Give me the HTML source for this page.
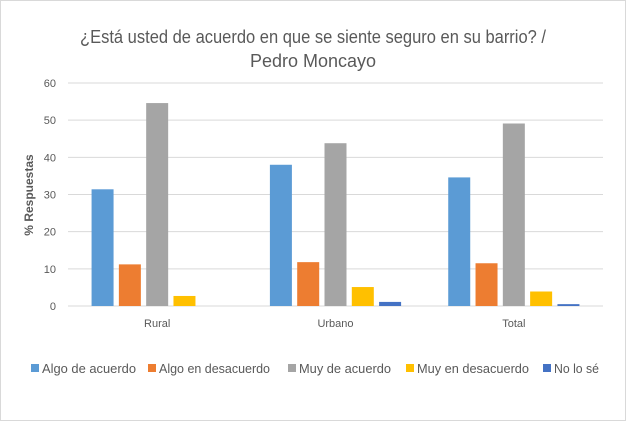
<!DOCTYPE html>
<html><head><meta charset="utf-8"><style>
body{margin:0;background:#fff;}
#c{position:relative;width:626px;height:421px;background:#fff;font-family:"Liberation Sans",sans-serif;}
#frame{position:absolute;left:0;top:0;width:624px;height:419px;border:1px solid #d9d9d9;}
</style></head><body>
<div id="c">
<div id="frame"></div>
<svg id="s" width="626" height="421" style="position:absolute;left:0;top:0">
<text x="313" y="43" text-anchor="middle" font-size="18" fill="#595959" textLength="466" lengthAdjust="spacingAndGlyphs">¿Está usted de acuerdo en que se siente seguro en su barrio? /</text>
<text x="313" y="67" text-anchor="middle" font-size="18" fill="#595959">Pedro Moncayo</text>
<text transform="translate(33,195) rotate(-90)" text-anchor="middle" font-size="12" font-weight="bold" fill="#595959">% Respuestas</text>
<g id="grid"></g><g id="bars"></g><g id="xl"></g><g id="leg"></g>
</svg>
</div>
<script>
const categories=["Rural","Urbano","Total"];
const seriesNames=["Algo de acuerdo","Algo en desacuerdo","Muy de acuerdo","Muy en desacuerdo","No lo sé"];
const colors=["#5b9bd5","#ed7d31","#a5a5a5","#ffc000","#4472c4"];
const algoAcuerdo=[31.4,38.0,34.6];
const algoDesacuerdo=[11.2,11.8,11.5];
const muyAcuerdo=[54.6,43.8,49.1];
const muyDesacuerdo=[2.7,5.1,3.9];
const noLoSe=[0,1.1,0.5];
const yTicks=[0,10,20,30,40,50,60];
const series=[algoAcuerdo,algoDesacuerdo,muyAcuerdo,muyDesacuerdo,noLoSe];
const NS="http://www.w3.org/2000/svg";
const x0=68,x1=603,yb=306,yt=83,ymax=60;
const y=v=>yb-(v/ymax)*(yb-yt);
const cw=(x1-x0)/categories.length, step=27.3, bw=22;
const xc=i=>x0+cw*(i+0.5);
function mk(tag,attrs,parent){const e=document.createElementNS(NS,tag);for(const k in attrs)e.setAttribute(k,attrs[k]);parent.appendChild(e);return e;}
const grid=document.getElementById('grid');
yTicks.forEach(t=>{
  const l=mk('line',{x1:x0,x2:x1,y1:y(t),y2:y(t),stroke:'#d9d9d9','stroke-width':1},grid);
  
  
  const tx=mk('text',{x:56,y:y(t)+4,'text-anchor':'end','font-size':11,fill:'#595959'},grid);
  tx.textContent=t;
  
  
});
const bars=document.getElementById('bars');
categories.forEach((c,i)=>{
  series.forEach((s,j)=>{
    const cx=xc(i)+(j-2)*step;
    const r=mk('rect',{x:cx-bw/2,y:y(s[i]),width:bw,height:yb-y(s[i]),fill:colors[j]},bars);
    
    
  });
  const t=mk('text',{x:xc(i),y:327,'text-anchor':'middle','font-size':11,fill:'#595959'},document.getElementById('xl'));
  t.textContent=c;
  
  
});
const legX=[31,148,288,406,543];
const legW=[94,111,92,112,45];
const leg=document.getElementById('leg');
seriesNames.forEach((n,j)=>{
  const g=mk('g',{},leg);
  
  
  mk('rect',{x:legX[j],y:364,width:8,height:8,fill:colors[j]},g);
  const t=mk('text',{x:legX[j]+11,y:373,'font-size':13,fill:'#595959',textLength:legW[j],lengthAdjust:'spacingAndGlyphs'},g);
  t.textContent=n;
});
</script>
</body></html>
